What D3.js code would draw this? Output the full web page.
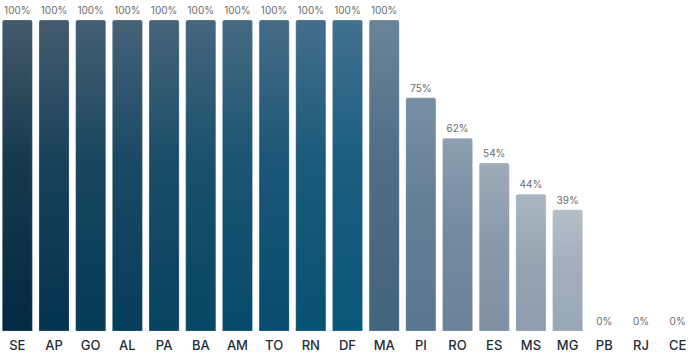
<!DOCTYPE html>
<html>
<head>
<meta charset="utf-8">
<script src="https://cdn.jsdelivr.net/npm/d3@7"></script>
<style>
html,body{margin:0;padding:0;background:#fff;}
svg{display:block;}
</style>
</head>
<body>
<svg id="chart" width="698" height="357"></svg>
<script>
const categories = ["SE","AP","GO","AL","PA","BA","AM","TO","RN","DF","MA","PI","RO","ES","MS","MG","PB","RJ","CE"];
const values = [100,100,100,100,100,100,100,100,100,100,100,75,62,54,44,39,0,0,0];
const yTicks = [0, 100];

const topColors = ["#435a6b","#445c6e","#455f72","#466276","#46647a","#45667e","#456a83","#456c87","#446e8b","#43708f","#6a8499","#7890a4","#8d9fb0","#9eacba","#a9b6c2","#b4bfc9","#ccc","#ccc","#ccc"];
const bottomColors = ["#022a41","#033450","#053a56","#053d5c","#064260","#064664","#074a6a","#074c6e","#075172","#085678","#41647f","#5b7690","#6a8298","#7e90a2","#8d9dad","#9aa8b5","#bbb","#bbb","#bbb"];

const svg = d3.select("#chart");
const x = d3.scaleBand().domain(categories).range([-1, 696]).paddingInner(0.18).paddingOuter(0.09);
const y = d3.scaleLinear().domain(d3.extent(yTicks)).range([331, 20]);

const defs = svg.append("defs");
categories.forEach((c, i) => {
  const g = defs.append("linearGradient").attr("id", "g" + i)
    .attr("x1", 0).attr("y1", 0).attr("x2", 0).attr("y2", 1);
  g.append("stop").attr("offset", "0%").attr("stop-color", topColors[i]);
  g.append("stop").attr("offset", "45%").attr("stop-color", d3.interpolateRgb(topColors[i], bottomColors[i])(0.68));
  g.append("stop").attr("offset", "100%").attr("stop-color", bottomColors[i]);
});

const r = 2;
function barPath(x0, y0, w, h) {
  if (h <= 0) return "";
  const rr = Math.min(r, h);
  return `M${x0},${y0 + h}V${y0 + rr}Q${x0},${y0} ${x0 + rr},${y0}H${x0 + w - rr}Q${x0 + w},${y0} ${x0 + w},${y0 + rr}V${y0 + h}Z`;
}

svg.append("g").selectAll("path").data(categories).join("path")
  .attr("d", (c, i) => barPath(x(c), y(values[i]), x.bandwidth(), y(0) - y(values[i])))
  .attr("fill", (c, i) => `url(#g${i})`)
  .attr("stroke", "rgba(255,255,255,0.25)")
  .attr("stroke-width", 0.8);

svg.append("g").selectAll("text").data(categories).join("text")
  .attr("x", c => x(c) + x.bandwidth() / 2)
  .attr("y", (c, i) => y(values[i]) - 6)
  .attr("text-anchor", "middle")
  .attr("font-family", "Inter, 'Noto Sans', sans-serif")
  .attr("font-size", 10)
  .attr("fill", "#6b6b6b")
  .text((c, i) => values[i] + "%");

const xAxis = d3.axisBottom(x).tickSize(0).tickPadding(10);
const ax = svg.append("g").attr("transform", `translate(0,${y(0)})`).call(xAxis);
ax.select(".domain").remove();
ax.selectAll("text")
  .attr("font-family", "Inter, 'Noto Sans', sans-serif")
  .attr("font-size", 13)
  .attr("font-weight", 500)
  .attr("fill", "#1f2d3a");
</script>
</body>
</html>
